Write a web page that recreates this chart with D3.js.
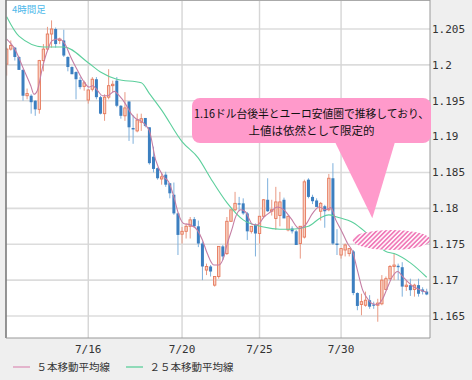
<!DOCTYPE html>
<html><head><meta charset="utf-8">
<script src="https://cdn.jsdelivr.net/npm/d3@7"></script>
<style>html,body{margin:0;padding:0;background:#efefef;} svg{display:block}</style>
</head><body><svg id="c" width="472" height="380"></svg>
<script>
// ---- data (EUR/USD 4h candles) ----
const opens  = [1.2001,1.2022,1.2024,1.2011,1.1993,1.1957,1.1957,1.1950,1.1938,1.2006,1.2022,1.2043,1.2050,1.2034,1.2034,1.2011,1.1997,1.1990,1.1979,1.1970,
                1.1951,1.1966,1.1980,1.1955,1.1932,1.1955,1.1971,1.1978,1.1943,1.1929,1.1949,1.1912,1.1908,1.1920,1.1926,1.1913,1.1872,1.1856,1.1841,1.1847,
                1.1835,1.1819,1.1793,1.1764,1.1768,1.1775,1.1785,1.1775,1.1751,1.1714,1.1719,1.1693,1.1705,1.1747,1.1737,1.1782,1.1798,1.1807,1.1807,1.1793,
                1.1768,1.1777,1.1765,1.1789,1.1812,1.1796,1.1786,1.1790,1.1812,1.1770,1.1772,1.1768,1.1751,1.1760,1.1840,1.1816,1.1811,1.1796,1.1803,1.1798,
                1.1842,1.1751,1.1735,1.1742,1.1737,1.1740,1.1682,1.1666,1.1665,1.1672,1.1666,1.1665,1.1667,1.1687,1.1702,1.1719,1.1720,1.1718,1.1691,1.1693,
                1.1687,1.1693,1.1687,1.1684];
const highs  = [1.2024,1.2034,1.2025,1.2012,1.1994,1.1967,1.1959,1.1951,1.2007,1.2029,1.2053,1.2062,1.2052,1.2038,1.2049,1.2012,1.1998,1.1991,1.1983,1.1978,
                1.1966,1.1983,1.1983,1.1957,1.1959,1.1994,1.1978,1.1983,1.1944,1.1962,1.1949,1.1930,1.1932,1.1932,1.1926,1.1913,1.1886,1.1857,1.1850,1.1851,
                1.1835,1.1836,1.1794,1.1774,1.1779,1.1788,1.1788,1.1783,1.1754,1.1723,1.1721,1.1705,1.1747,1.1749,1.1788,1.1798,1.1823,1.1816,1.1814,1.1795,
                1.1770,1.1779,1.1788,1.1813,1.1842,1.1812,1.1830,1.1823,1.1815,1.1789,1.1775,1.1770,1.1775,1.1840,1.1842,1.1819,1.1814,1.1809,1.1805,1.1848,
                1.1863,1.1771,1.1744,1.1751,1.1744,1.1742,1.1683,1.1681,1.1684,1.1679,1.1670,1.1674,1.1707,1.1705,1.1721,1.1737,1.1723,1.1725,1.1700,1.1702,
                1.1695,1.1702,1.1690,1.1688];
const lows   = [1.1985,1.2020,1.2006,1.1993,1.1950,1.1952,1.1932,1.1929,1.1932,1.1991,1.2020,1.2024,1.2024,1.2029,1.2011,1.1991,1.1987,1.1952,1.1966,1.1964,
                1.1946,1.1963,1.1952,1.1931,1.1922,1.1952,1.1962,1.1941,1.1925,1.1922,1.1894,1.1890,1.1906,1.1908,1.1913,1.1861,1.1850,1.1840,1.1833,1.1830,
                1.1814,1.1791,1.1735,1.1751,1.1758,1.1758,1.1774,1.1746,1.1700,1.1707,1.1705,1.1691,1.1702,1.1728,1.1735,1.1781,1.1796,1.1796,1.1791,1.1756,
                1.1765,1.1733,1.1751,1.1788,1.1795,1.1790,1.1770,1.1775,1.1790,1.1768,1.1765,1.1749,1.1730,1.1758,1.1814,1.1806,1.1803,1.1783,1.1773,1.1796,
                1.1749,1.1735,1.1730,1.1733,1.1733,1.1679,1.1658,1.1651,1.1663,1.1660,1.1660,1.1642,1.1665,1.1686,1.1700,1.1700,1.1700,1.1677,1.1685,1.1678,
                1.1677,1.1677,1.1680,1.1679];
const closes = [1.2022,1.2027,1.2011,1.1993,1.1957,1.1960,1.1948,1.1938,1.2006,1.2022,1.2043,1.2050,1.2029,1.2036,1.2013,1.1997,1.1987,1.1980,1.1969,1.1975,
                1.1965,1.1980,1.1955,1.1932,1.1955,1.1971,1.1973,1.1943,1.1929,1.1940,1.1913,1.1910,1.1923,1.1925,1.1915,1.1863,1.1855,1.1842,1.1844,1.1833,
                1.1821,1.1793,1.1763,1.1768,1.1775,1.1784,1.1775,1.1751,1.1719,1.1719,1.1712,1.1705,1.1747,1.1733,1.1782,1.1798,1.1807,1.1806,1.1793,1.1768,
                1.1775,1.1765,1.1789,1.1812,1.1796,1.1798,1.1809,1.1809,1.1786,1.1789,1.1768,1.1749,1.1775,1.1837,1.1816,1.1810,1.1802,1.1807,1.1796,1.1842,
                1.1751,1.1749,1.1744,1.1749,1.1744,1.1682,1.1664,1.1670,1.1672,1.1663,1.1665,1.1668,1.1700,1.1702,1.1719,1.1721,1.1718,1.1691,1.1693,1.1686,
                1.1693,1.1681,1.1684,1.1680];

const ma5Idx = [0,1.8,4.3,5.9,6.7,7.5,8.8,10,11.2,12.9,14.5,15.7,17.4,19,20.2,21.1,22.3,23.5,24.7,26.4,27.6,29.2,30.5,31.7,32.9,34.2,35,
                36.5,38.5,39.7,41,42.2,43.4,45,46.7,48,49.2,50.8,52,53.3,54,55.3,56,57.4,58.6,59.4,60.2,61.5,63.1,64.7,66.4,68,69.7,
                71.7,73.3,75,76.6,78.2,79.5,80.7,82,83.6,84.8,86,87.3,88.5,89.7,90.9,92.2,93.4,94.6,95.9,97.1,98.3,100,101.6,103];
const ma5Val = [1.2036,1.2024,1.1992,1.1971,1.1959,1.1964,1.1997,1.2020,1.2034,1.2036,1.2027,1.2011,1.1992,1.1976,1.1969,1.1971,1.1964,1.1957,1.1957,1.1963,1.1957,1.1945,1.1932,1.1925,1.1922,1.1915,1.1908,
                1.1868,1.1844,1.1837,1.1816,1.1791,1.1779,1.1777,1.1770,1.1756,1.1737,1.1721,1.1721,1.1733,1.1749,1.1772,1.1786,1.1798,1.1795,1.1786,1.1778,1.1777,1.1788,1.1795,1.1802,1.1798,1.1786,
                1.1772,1.1777,1.1793,1.1802,1.1798,1.1801,1.1784,1.1770,1.1751,1.1740,1.1714,1.1686,1.1674,1.1667,1.1666,1.1674,1.1690,1.1705,1.1712,1.1705,1.1698,1.1690,1.1686,1.1683];

const ma25Idx = [0,3,9,14,20,23,27,33,35,38,43,47,50,54,58,63,67,70,74,77,79,81,85,88,93,95,99,103];
const ma25Val = [1.2067,1.2040,1.2025,1.2025,1.2003,1.1990,1.1980,1.1975,1.1960,1.1937,1.1893,1.1870,1.1842,1.1808,1.1784,1.1774,1.1771,1.1771,1.1775,1.1787,1.1791,1.1788,1.1780,1.1767,1.1740,1.1737,1.1724,1.1704];

const xTickIdx = [20,43,62,82];
const xTickLabels = ["7/16","7/20","7/25","7/30"];
const yTicks = [1.165,1.17,1.175,1.18,1.185,1.19,1.195,1.2,1.205];
const yTickLabels = ["1.165","1.17","1.175","1.18","1.185","1.19","1.195","1.2","1.205"];
const timeframeLabel = "4時間足";
const calloutLines = ["1.16ドル台後半とユーロ安値圏で推移しており、","上値は依然として限定的"];
const legendLabels = ["５本移動平均線","２５本移動平均線"];
const zoneIdx = [84.8,103.9];
const zonePrice = [1.1742,1.1770];

// ---- drawing ----
const svg = d3.select("#c");
const P = {l:6, r:430, t:0, b:338};
const x = d3.scaleLinear().domain([0,103]).range([6.7,426.7]);
const y = d3.scaleLinear().domain([1.165,1.205]).range([316,29]);

const defs = svg.append("defs");
defs.append("clipPath").attr("id","clip").append("rect")
  .attr("x",P.l).attr("y",P.t).attr("width",P.r-P.l).attr("height",P.b-P.t);
const pat = defs.append("pattern").attr("id","hatch").attr("patternUnits","userSpaceOnUse")
  .attr("width",3.2).attr("height",3.2).attr("patternTransform","rotate(45)");
pat.append("rect").attr("width",3.2).attr("height",3.2).attr("fill","#fff4fa");
pat.append("rect").attr("width",1.6).attr("height",3.2).attr("fill","#f07ab8");

svg.append("rect").attr("width",472).attr("height",380).attr("fill","#efefef");
svg.append("rect").attr("x",P.l).attr("y",P.t).attr("width",P.r-P.l).attr("height",P.b-P.t).attr("fill","#fff");

const g = svg.append("g").attr("clip-path","url(#clip)");
// gridlines
g.selectAll(".hg").data(yTicks).join("line")
  .attr("x1",P.l).attr("x2",P.r).attr("y1",d=>y(d)).attr("y2",d=>y(d))
  .attr("stroke","#dcdcdc").attr("stroke-width",1.6);
g.selectAll(".vg").data(xTickIdx).join("line")
  .attr("x1",d=>x(d)).attr("x2",d=>x(d)).attr("y1",P.t).attr("y2",P.b)
  .attr("stroke","#d6d6d6").attr("stroke-width",1.4);

// candles
const idx = d3.range(opens.length);
const up = i => closes[i] >= opens[i];
g.selectAll(".wick").data(idx).join("line")
  .attr("x1",i=>x(i)).attr("x2",i=>x(i))
  .attr("y1",i=>y(highs[i])).attr("y2",i=>y(lows[i]))
  .attr("stroke",i=>up(i)?"#e99a84":"#7eb0dc").attr("stroke-width",1);
g.selectAll(".body").data(idx).join("rect")
  .attr("x",i=>x(i)-(up(i)?1.2:1.5))
  .attr("width",i=>up(i)?2.4:3)
  .attr("y",i=>y(Math.max(opens[i],closes[i])))
  .attr("height",i=>Math.max(1.2,Math.abs(y(opens[i])-y(closes[i]))))
  .attr("fill",i=>up(i)?"#f8d2c4":"#3c7fc0")
  .attr("stroke",i=>up(i)?"#e6795c":"none")
  .attr("stroke-width",0.9);

// moving averages
const line = d3.line().curve(d3.curveMonotoneX);
g.append("path").attr("d",line(ma25Idx.map((d,k)=>[x(d),y(ma25Val[k])])))
  .attr("fill","none").attr("stroke","#5ccf9c").attr("stroke-width",1.1);
g.append("path").attr("d",line(ma5Idx.map((d,k)=>[x(d),y(ma5Val[k])])))
  .attr("fill","none").attr("stroke","#c57ea4").attr("stroke-width",1.1);

// hatched zone
g.append("ellipse")
  .attr("cx",(x(zoneIdx[0])+x(zoneIdx[1]))/2).attr("cy",(y(zonePrice[0])+y(zonePrice[1]))/2)
  .attr("rx",(x(zoneIdx[1])-x(zoneIdx[0]))/2).attr("ry",(y(zonePrice[0])-y(zonePrice[1]))/2)
  .attr("fill","url(#hatch)");

// borders
svg.append("line").attr("x1",P.l).attr("x2",P.r).attr("y1",0.5).attr("y2",0.5).attr("stroke","#aaa");
svg.append("line").attr("x1",P.l).attr("x2",P.l).attr("y1",0).attr("y2",P.b).attr("stroke","#7a7a7a").attr("stroke-width",1.6);
svg.append("line").attr("x1",P.r).attr("x2",P.r).attr("y1",0).attr("y2",P.b).attr("stroke","#999");
svg.append("line").attr("x1",P.l).attr("x2",P.r).attr("y1",P.b).attr("y2",P.b).attr("stroke","#999");

// axis labels
svg.selectAll(".yl").data(yTicks).join("text")
  .attr("x",432).attr("y",d=>y(d)).attr("dy","0.35em")
  .attr("font-family","DejaVu Sans Mono").attr("font-size",11).attr("fill","#333")
  .text((d,k)=>yTickLabels[k]);
svg.selectAll(".xl").data(xTickIdx).join("text")
  .attr("x",d=>x(d)).attr("y",353).attr("text-anchor","middle")
  .attr("font-family","DejaVu Sans Mono").attr("font-size",11).attr("fill","#333")
  .text((d,k)=>xTickLabels[k]);

// timeframe label
svg.append("text").attr("x",12).attr("y",13).attr("font-family","Noto Sans CJK JP")
  .attr("font-size",9.5).attr("fill","#4db8ea").text(timeframeLabel);

// callout
const cx0=192, cx1=431, cy0=98, cy1=143;
svg.append("path").attr("d",`M335,${cy1-1} L372.3,218.3 L395,${cy1-1} Z`).attr("fill","#ff9acb");
svg.append("rect").attr("x",cx0).attr("y",cy0).attr("width",cx1-cx0).attr("height",cy1-cy0)
  .attr("rx",8).attr("fill","#ff9acb");
svg.append("text").attr("x",(cx0+cx1)/2).attr("y",118).attr("text-anchor","middle")
  .attr("font-family","Noto Sans CJK JP").attr("font-size",11.5).attr("fill","#111")
  .attr("textLength",235).attr("lengthAdjust","spacingAndGlyphs").text(calloutLines[0]);
svg.append("text").attr("x",(cx0+cx1)/2).attr("y",135).attr("text-anchor","middle")
  .attr("font-family","Noto Sans CJK JP").attr("font-size",11.5).attr("fill","#111")
  .text(calloutLines[1]);

// legend
const legColors=["#dfa0c0","#6fd3a6"], legX=[13,126];
legendLabels.forEach((t,k)=>{
  svg.append("line").attr("x1",legX[k]).attr("x2",legX[k]+17).attr("y1",367).attr("y2",367)
    .attr("stroke",legColors[k]).attr("stroke-width",1.5);
  svg.append("text").attr("x",legX[k]+23.5).attr("y",367).attr("dy","0.36em")
    .attr("font-family","Noto Sans CJK JP").attr("font-size",10.5).attr("fill","#333").text(t);
});
</script></body></html>
